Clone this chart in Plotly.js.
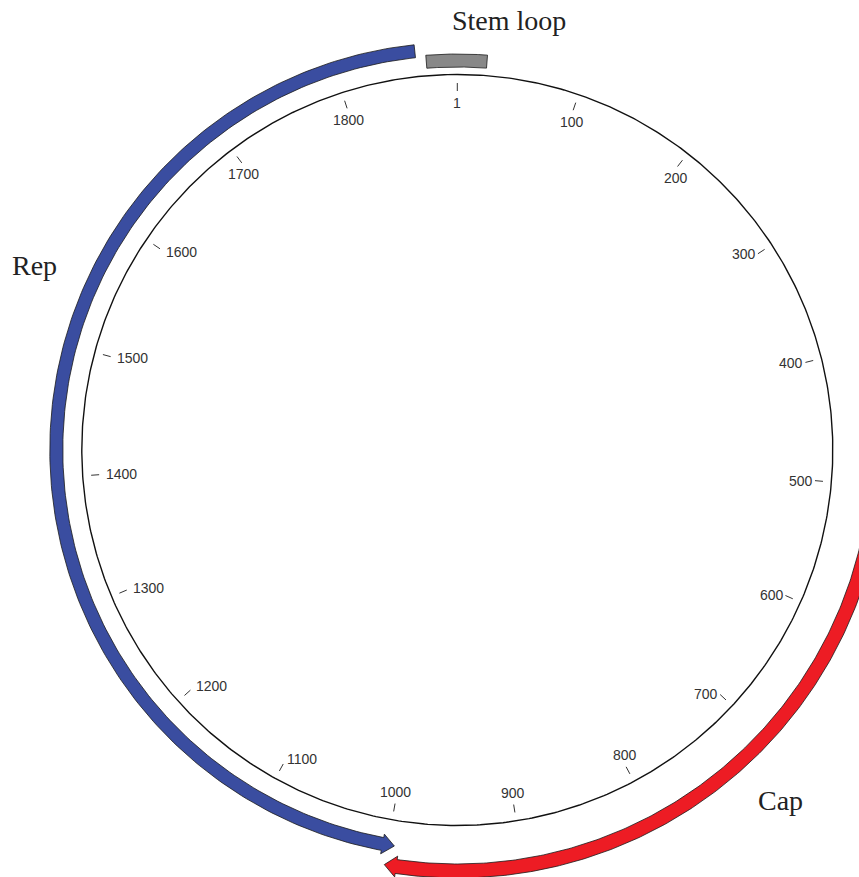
<!DOCTYPE html>
<html>
<head>
<meta charset="utf-8">
<script src="https://cdn.plot.ly/plotly-3.0.1.min.js"></script>
<style>html,body{margin:0;padding:0;background:#fff;}#chart{width:859px;height:877px;}</style>
</head>
<body>
<div id="chart"></div>
<script>
// ---- data ----
const genomeLength = 1893;
const tickPositions = [1, 100, 200, 300, 400, 500, 600, 700, 800, 900, 1000, 1100, 1200, 1300, 1400, 1500, 1600, 1700, 1800];
const tickLabels = ['1', '100', '200', '300', '400', '500', '600', '700', '800', '900', '1000', '1100', '1200', '1300', '1400', '1500', '1600', '1700', '1800'];
const featureNames = ['Rep', 'Cap', 'Stem loop'];
const featureStart = [1862, 525, 1870];
const featureEnd = [995, 1000, 24];
const featureStrand = [-1, 1, 0];

// ---- styling / geometry ----
const W = 859, H = 877;
const CX = 457.3, CY = 450;
const R_CIRCLE = 375.5;
const TICK_IN = 359, TICK_OUT = 367;
const LABEL_R_TOP = 356, LABEL_R_RIGHT = 358, LABEL_R_LEFT = 353;
const featureStyle = {
  'Rep': {color: '#3A4DA0', rc: 401, half: 6.5, headHalf: 10, headLen: 12},
  'Cap': {color: '#ED1C24', rc: 421, half: 7, headHalf: 10.5, headLen: 12},
  'Stem loop': {color: '#888888', rc: 389.5, half: 6.5, headHalf: 0, headLen: 0}
};

function ang(p) { return (p - 1) / genomeLength * 2 * Math.PI; }
function pt(r, p) { const a = ang(p); return [r * Math.sin(a), r * Math.cos(a)]; }

function arcPts(r, p1, p2, n) {
  const xs = [], ys = [];
  for (let i = 0; i <= n; i++) {
    const p = p1 + (p2 - p1) * i / n;
    const q = pt(r, p); xs.push(q[0]); ys.push(q[1]);
  }
  return [xs, ys];
}

const traces = [];

// main circle
{
  const c = arcPts(R_CIRCLE, 1, 1 + genomeLength, 720);
  traces.push({x: c[0], y: c[1], mode: 'lines', line: {color: '#111', width: 1.4}, hoverinfo: 'skip', showlegend: false});
}

// tick marks
{
  const xs = [], ys = [];
  tickPositions.forEach(p => {
    const a = pt(TICK_IN, p), b = pt(TICK_OUT, p);
    xs.push(a[0], b[0], null); ys.push(a[1], b[1], null);
  });
  traces.push({x: xs, y: ys, mode: 'lines', line: {color: '#333', width: 1}, hoverinfo: 'skip', showlegend: false});
}

// features
featureNames.forEach((name, i) => {
  const st = featureStyle[name];
  const dir = featureStrand[i];
  let p1 = featureStart[i], p2 = featureEnd[i];
  const d = dir === 0 ? 1 : dir;
  if (d > 0 && p2 < p1) p2 += genomeLength;
  if (d < 0 && p2 > p1) p2 -= genomeLength;
  const rOut = st.rc + st.half, rIn = st.rc - st.half;
  const xs = [], ys = [];
  if (dir === 0) {
    const o = arcPts(rOut, p1, p2, 60), n = arcPts(rIn, p2, p1, 60);
    xs.push(...o[0], ...n[0]); ys.push(...o[1], ...n[1]);
  } else {
    const dp = st.headLen / st.rc * genomeLength / (2 * Math.PI) * d;
    const base = p2 - dp;
    const o = arcPts(rOut, p1, base, 200);
    xs.push(...o[0]); ys.push(...o[1]);
    const h1 = pt(st.rc + st.headHalf, base), tip = pt(st.rc, p2), h2 = pt(st.rc - st.headHalf, base);
    xs.push(h1[0], tip[0], h2[0]); ys.push(h1[1], tip[1], h2[1]);
    const n = arcPts(rIn, base, p1, 200);
    xs.push(...n[0]); ys.push(...n[1]);
  }
  xs.push(xs[0]); ys.push(ys[0]);
  traces.push({x: xs, y: ys, mode: 'lines', fill: 'toself', fillcolor: st.color,
    line: {color: '#1a1a1a', width: 0.8}, name: name, hoverinfo: 'name', showlegend: false});
});

// tick labels
const annotations = tickPositions.map((p, i) => {
  const deg = (p - 1) / genomeLength * 360;
  let xa = 'center', ya = 'middle', r = LABEL_R_TOP;
  if (deg < 45 || deg >= 315) { ya = 'top'; }
  else if (deg < 135) { xa = 'right'; r = LABEL_R_RIGHT; }
  else if (deg < 200) { ya = 'bottom'; }
  else { xa = 'left'; r = LABEL_R_LEFT; }
  const q = pt(r, p);
  return {x: q[0], y: q[1], xref: 'x', yref: 'y', text: tickLabels[i], showarrow: false,
    xanchor: xa, yanchor: ya, borderpad: 0,
    font: {family: 'Liberation Sans, Arial, sans-serif', size: 14, color: '#333'}};
});

// feature name labels
const featureLabelPos = {'Stem loop': [509, 20], 'Rep': [34, 265], 'Cap': [780, 800]};
featureNames.forEach(name => {
  const pp = featureLabelPos[name];
  annotations.push({x: pp[0] - CX, y: CY - pp[1], xref: 'x', yref: 'y', text: name, showarrow: false,
    xanchor: 'center', yanchor: 'middle',
    font: {family: 'Liberation Serif, Times New Roman, serif', size: 28, color: '#222'}});
});

const layout = {
  width: W, height: H,
  margin: {l: 0, r: 0, t: 0, b: 0, pad: 0},
  paper_bgcolor: '#fff', plot_bgcolor: '#fff',
  xaxis: {range: [-CX, W - CX], visible: false, fixedrange: true},
  yaxis: {range: [CY - H, CY], visible: false, fixedrange: true},
  showlegend: false,
  annotations: annotations
};

Plotly.newPlot('chart', traces, layout, {staticPlot: true, displayModeBar: false});
</script>
</body>
</html>
